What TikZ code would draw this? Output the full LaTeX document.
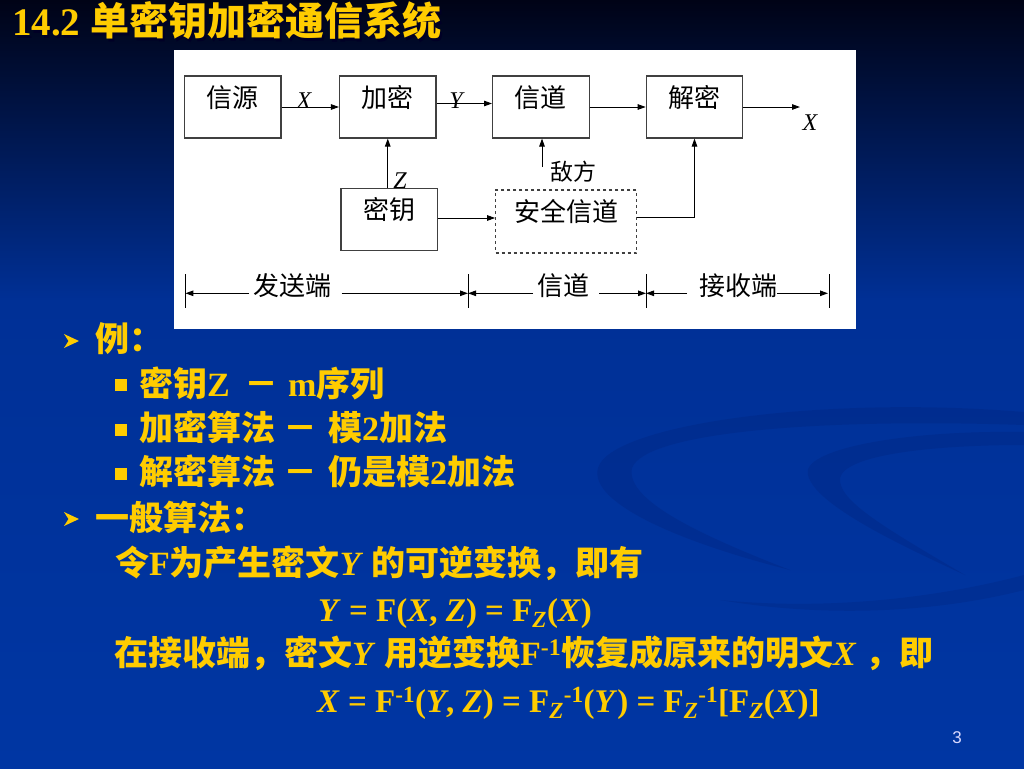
\documentclass[tikz,border=0pt]{standalone}
\usepackage{fontspec}
\setmainfont{Liberation Serif}
\setsansfont{Liberation Sans}
\newfontfamily\cjk{Noto Sans CJK SC}
\usetikzlibrary{arrows.meta,calc}
\definecolor{ttl}{RGB}{255,204,0}
\definecolor{bgtop}{RGB}{0,3,22}
\definecolor{bgmid}{RGB}{0,48,150}
\definecolor{bgbot}{RGB}{0,54,163}
\definecolor{swirl}{RGB}{0,38,130}
\newcommand\C[1]{{\cjk #1}}
\tikzset{
  box/.style={draw=black!75, line width=1.1pt, minimum width=96.5pt, minimum height=62pt,
    inner sep=0pt, text height=20pt, text depth=20pt, font=\fontsize{26}{28}\selectfont\cjk},
  arr/.style={-{Triangle[length=8pt,width=5.5pt]}, line width=1pt, black},
  dlab/.style={inner sep=0pt, font=\fontsize{26}{28}\selectfont\cjk},
  var/.style={inner sep=0pt, anchor=base, font=\fontsize{24}{26}\selectfont\itshape},
  body/.style={inner sep=0pt, anchor=base west, text=ttl, font=\fontsize{34}{37}\selectfont\bfseries},
  formula/.style={body, font=\fontsize{33}{36}\selectfont\bfseries},
  sqb/.style={fill=ttl, minimum size=12pt, inner sep=0pt},
}
\begin{document}
\begin{tikzpicture}[x=1pt,y=-1pt]
\useasboundingbox (0,0) rectangle (1024,768);
% background
\fill[top color=bgtop, bottom color=bgmid] (0,0) rectangle (1024,301);
\fill[top color=bgmid, bottom color=bgbot] (0,300) rectangle (1024,768);
% swirls
\fill[swirl, opacity=0.4] (1024,412) .. controls (820,395) and (610,425) .. (598,468)
  .. controls (588,505) and (690,545) .. (790,570)
  .. controls (700,535) and (625,500) .. (632,468)
  .. controls (645,432) and (820,418) .. (1024,425) -- cycle;
\fill[swirl, opacity=0.4] (1024,432) .. controls (900,430) and (800,450) .. (808,475)
  .. controls (815,505) and (900,545) .. (965,575)
  .. controls (880,525) and (838,500) .. (840,478)
  .. controls (845,455) and (930,445) .. (1024,445) -- cycle;
\fill[swirl, opacity=0.35] (720,600) .. controls (820,610) and (930,600) .. (1024,575)
  -- (1024,590) .. controls (930,614) and (820,617) .. (720,600) -- cycle;

% title
\node[inner sep=0pt, anchor=base west, text=black!85!blue, font=\fontsize{39}{42}\selectfont\bfseries] (tsh) at (14,38) {14.2 \C{单密钥加密通信系统}};
\node[inner sep=0pt, anchor=base west, text=ttl, font=\fontsize{39}{42}\selectfont\bfseries] (title) at (12,36) {14.2 \C{单密钥加密通信系统}};

% diagram panel
\fill[white] (174,50) rectangle (856,329);
\node[box] (src) at (232.75,107) {信源};
\node[box] (enc) at (387.75,107) {加密};
\node[box] (chan) at (540.8,107) {信道};
\node[box] (dec) at (694.5,107) {解密};
\node[box] (key) at (389.2,219.5) {密钥};
\node[box, dashed, minimum width=140.8pt, minimum height=63pt] (sec) at (566.1,221.5) {安全信道};

\coordinate (out) at (800,107);
\coordinate (adv) at (542,167);
\draw[arr] (src) -- (enc);
\draw[arr] ([yshift=3.5pt]enc.east) -- ([yshift=3.5pt]chan.west);
\draw[arr] (chan) -- (dec);
\draw[arr] (dec.east) -- (out);
\draw[arr] (key.north -| enc.south) -- (enc.south);
\draw[arr] (adv) -- (adv |- chan.south);
\draw[arr] ([yshift=1.5pt]key.east) -- ([yshift=1.5pt]key.east -| sec.west);
\draw[arr] ([yshift=4pt]sec.east) -| (dec.south);

\node[var] (lx1) at (304,108) {X};
\node[var] (ly) at (456,108) {Y};
\node[var] (lx2) at (810,130) {X};
\node[var] (lz) at (400,188) {Z};
\node[inner sep=0pt, font=\fontsize{23}{25}\selectfont\cjk] (advl) at (573,172) {敌方};

% dimension row
\coordinate (k1t) at (185.4,274); \coordinate (k1b) at (185.4,308);
\coordinate (k2t) at (468,274); \coordinate (k2b) at (468,308);
\coordinate (k3t) at (646,274); \coordinate (k3b) at (646,308);
\coordinate (k4t) at (829,274); \coordinate (k4b) at (829,308);
\draw[line width=1pt] (k1t) -- (k1b) (k2t) -- (k2b) (k3t) -- (k3b) (k4t) -- (k4b);
\coordinate (d1) at (185.4,293.3); \coordinate (d2) at (468,293.3);
\coordinate (d3) at (646,293.3); \coordinate (d4) at (828,293.3);
\coordinate (s1a) at (249,293.3); \coordinate (s1b) at (341.6,293.3);
\coordinate (s2a) at (533,293.3); \coordinate (s2b) at (599,293.3);
\coordinate (s3a) at (687,293.3); \coordinate (s3b) at (777,293.3);
\draw[arr] (s1a) -- (d1);
\draw[arr] (s1b) -- (d2);
\draw[arr] (s2a) -- (d2);
\draw[arr] (s2b) -- (d3);
\draw[arr] (s3a) -- (d3);
\draw[arr] (s3b) -- (d4);
\node[dlab] (snd) at (292.5,286) {发送端};
\node[dlab] (chl) at (563,286) {信道};
\node[dlab] (rcv) at (738,286) {接收端};

% bullets
\fill[ttl] (64,334) -- (79,341) -- (64,348) -- (68.5,341) -- cycle;
\fill[ttl] (64,512) -- (79,519) -- (64,526) -- (68.5,519) -- cycle;
\node[sqb] (b1) at (121,384.5) {};
\node[sqb] (b2) at (121,429.5) {};
\node[sqb] (b3) at (121,474) {};

\node[body] (l1) at (95,351) {\C{例：}};
\node[body] (l2a) at (139,396) {\C{密钥}Z};
\node[body] (l2b) at (244,396) {\C{－}};
\node[body] (l2c) at (288,396) {m\C{序列}};
\node[body] (l3a) at (139,440) {\C{加密算法}};
\node[body] (l3b) at (283,440) {\C{－}};
\node[body] (l3c) at (328,440) {\C{模}2\C{加法}};
\node[body] (l4a) at (139,484.5) {\C{解密算法}};
\node[body] (l4b) at (283,484.5) {\C{－}};
\node[body] (l4c) at (328,484.5) {\C{仍是模}2\C{加法}};
\node[body] (l5) at (95,530) {\C{一般算法：}};
\node[body] (l6) at (115,575.5) {\C{令}F\C{为产生密文}\textit{Y} \C{的可逆变换，即有}};
\node[formula] (l7) at (318,621) {\textit{Y} = F(\textit{X}, \textit{Z}) = F\textsubscript{\textit{Z}}(\textit{X})};
\node[body] (l8) at (114,665) {\C{在接收端，密文}\textit{Y} \C{用逆变换}F\textsuperscript{-1}\C{恢复成原来的明文}\textit{X} \C{，}\C{即}};
\node[formula] (l9) at (317,712) {\textit{X} = F\textsuperscript{-1}(\textit{Y}, \textit{Z}) = F\textsubscript{\textit{Z}}\textsuperscript{-1}(\textit{Y}) = F\textsubscript{\textit{Z}}\textsuperscript{-1}[F\textsubscript{\textit{Z}}(\textit{X})]};

\node[inner sep=0pt, font=\sffamily\fontsize{17}{18}\selectfont, text=white!85!blue] (pg) at (957,738) {3};
\end{tikzpicture}
\end{document}
